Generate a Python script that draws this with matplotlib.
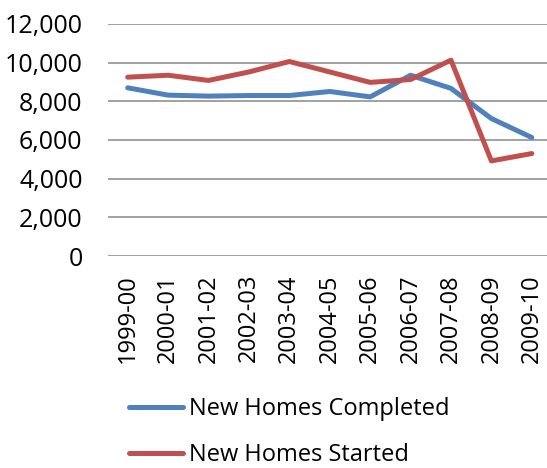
import matplotlib
matplotlib.use("Agg")
import matplotlib.pyplot as plt
from matplotlib.ticker import FuncFormatter

categories = ["1999-00", "2000-01", "2001-02", "2002-03", "2003-04", "2004-05",
              "2005-06", "2006-07", "2007-08", "2008-09", "2009-10"]
completed = [8700, 8320, 8270, 8300, 8300, 8510, 8230, 9350, 8670, 7110, 6130]
started = [9250, 9350, 9080, 9520, 10060, 9520, 8980, 9130, 10130, 4920, 5300]
yticks = [0, 2000, 4000, 6000, 8000, 10000, 12000]

plt.rcParams['font.family'] = ['Open Sans', 'DejaVu Sans']

W, H = 547, 468
fig = plt.figure(figsize=(W / 100, H / 100), dpi=100)
ax = fig.add_axes([107.5 / W, (H - 256) / H, 444.5 / W, 232 / H])

x = list(range(len(categories)))
l1, = ax.plot(x, completed, color="#4F81BD", lw=3.6, solid_capstyle="round", label="New Homes Completed")
l2, = ax.plot(x, started, color="#C0504D", lw=3.6, solid_capstyle="round", label="New Homes Started")

ax.set_xlim(-0.5, len(categories) - 0.5)
ax.set_ylim(0, 12000)
ax.set_yticks(yticks)
ax.yaxis.set_major_formatter(FuncFormatter(lambda v, p: f"{int(v):,}"))
ax.set_xticks(x)
ax.set_xticklabels(categories, rotation=90, va="top", ha="center")
ax.grid(axis="y", color="#9a9a9a", lw=1.3)
ax.set_axisbelow(True)
for s in ax.spines.values():
    s.set_visible(False)
ax.tick_params(axis="both", length=0, labelsize=17, colors="black")
ax.tick_params(axis="y", pad=18, labelsize=18)
ax.tick_params(axis="x", pad=13)

fig.legend(handles=[l1, l2], loc="upper left", bbox_to_anchor=(129 / W, (H - 397) / H),
           frameon=False, fontsize=17, handlelength=2.3, handletextpad=0.25,
           labelspacing=0.95, borderpad=0, borderaxespad=0)

fig.savefig("out.png", dpi=100)
